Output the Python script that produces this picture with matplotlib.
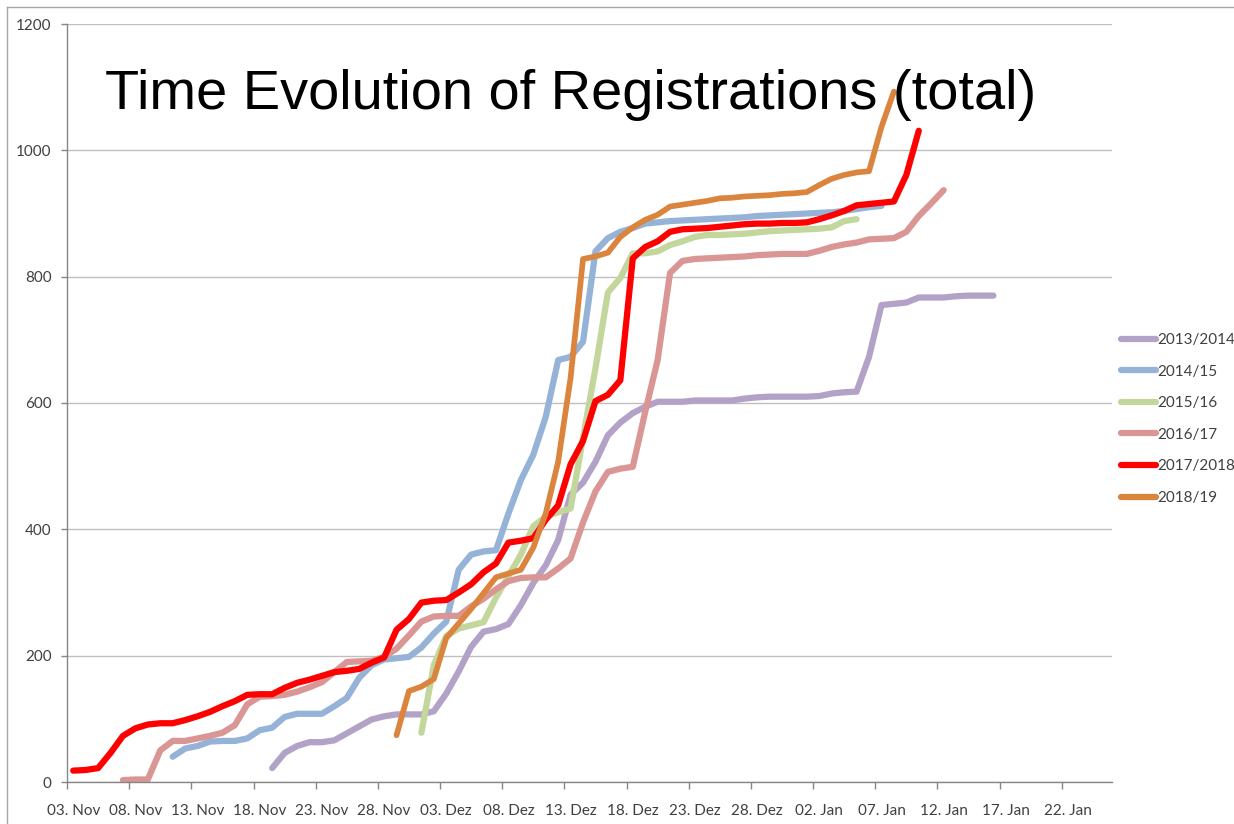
import matplotlib
matplotlib.use("Agg")
import matplotlib.pyplot as plt
from matplotlib.lines import Line2D

# day index 0 = 03. Nov, one category per day
tick_labels = ["03. Nov", "08. Nov", "13. Nov", "18. Nov", "23. Nov", "28. Nov",
               "03. Dez", "08. Dez", "13. Dez", "18. Dez", "23. Dez", "28. Dez",
               "02. Jan", "07. Jan", "12. Jan", "17. Jan", "22. Jan"]
n_days = 84

seasons = ["2013/2014", "2014/15", "2015/16", "2016/17", "2017/2018", "2018/19"]
colors = ["#B3A2C7", "#95B3D7", "#C3D69B", "#D99694", "#FF0000", "#DB843D"]

start_1314 = 16
vals_1314 = [22, 46, 57, 63, 63, 66, 77, 88, 99, 104, 107, 107, 107, 112, 140, 175,
             214, 238, 242, 250, 280, 315, 343, 383, 455, 474, 507, 549, 569, 584,
             594, 602, 602, 602, 604, 604, 604, 604, 607, 609, 610, 610, 610, 610,
             611, 615, 617, 618, 673, 755, 757, 759, 767, 767, 767, 769, 770, 770, 770]

start_1415 = 8
vals_1415 = [40, 53, 57, 64, 65, 65, 69, 82, 86, 103, 108, 108, 108, 120, 133, 165,
             185, 194, 196, 198, 213, 235, 254, 336, 360, 365, 367, 425, 478, 518,
             578, 668, 673, 697, 840, 861, 871, 877, 884, 886, 888, 889, 890, 891,
             892, 893, 894, 896, 897, 898, 899, 900, 901, 902, 904, 907, 910, 912]

start_1516 = 28
vals_1516 = [78, 185, 231, 243, 248, 253, 292, 326, 360, 405, 420, 427, 433, 545,
             655, 775, 798, 837, 837, 840, 850, 856, 863, 866, 866, 867, 868, 870,
             872, 873, 874, 875, 876, 878, 888, 891]

start_1617 = 4
vals_1617 = [3, 4, 4, 50, 65, 65, 69, 73, 78, 90, 123, 135, 136, 138, 143, 150, 158,
             174, 190, 191, 192, 198, 211, 232, 254, 262, 263, 263, 278, 290, 305,
             318, 323, 324, 324, 338, 354, 411, 460, 491, 496, 499, 586, 668, 806,
             825, 828, 829, 830, 831, 832, 834, 835, 836, 836, 836, 841, 847, 851,
             854, 859, 860, 861, 871, 896, 916, 937]

start_1718 = 0
vals_1718 = [18, 19, 22, 46, 73, 85, 91, 93, 93, 98, 104, 111, 120, 128, 138, 139,
             139, 149, 157, 162, 168, 174, 176, 179, 189, 197, 241, 258, 284, 287,
             288, 300, 313, 332, 346, 379, 382, 386, 415, 438, 503, 540, 603, 613,
             636, 829, 847, 856, 871, 875, 876, 877, 879, 881, 883, 884, 884, 885,
             885, 886, 891, 897, 904, 913, 915, 917, 919, 961, 1031]

start_1819 = 26
vals_1819 = [74, 144, 151, 163, 228, 251, 274, 299, 324, 330, 336, 371, 425, 507,
             640, 828, 832, 838, 863, 878, 890, 898, 911, 914, 917, 920, 924, 925,
             927, 928, 929, 931, 932, 934, 945, 955, 961, 965, 967, 1037, 1093]

starts = [start_1314, start_1415, start_1516, start_1617, start_1718, start_1819]
series = [vals_1314, vals_1415, vals_1516, vals_1617, vals_1718, vals_1819]
widths = [4.5, 4.5, 4.5, 4.5, 4.5, 4.1]

fig = plt.figure(figsize=(12.34, 8.24), dpi=100)
ax = fig.add_axes([67 / 1234, 42 / 824, 1044.5 / 1234, 758 / 824])

for name, c, s, v, lw in zip(seasons, colors, starts, series, widths):
    days = list(range(s, s + len(v)))
    ax.plot(days, v, color=c, lw=lw, label=name,
            solid_capstyle="round", solid_joinstyle="round")

ax.set_xlim(-0.5, n_days - 0.5)
ax.set_ylim(0, 1200)
ax.set_yticks(range(0, 1201, 200))
ax.grid(axis="y", color="#BFBFBF", lw=1.0)
ax.set_axisbelow(True)

# tick marks between categories, labels centred on the day
ax.set_xticks([5 * k - 0.5 for k in range(len(tick_labels))])
ax.set_xticklabels([])
ax.set_xticks([5 * k for k in range(len(tick_labels))], minor=True)
ax.set_xticklabels(tick_labels, minor=True)
ax.tick_params(axis="x", which="major", length=5, color="#868686", width=1)
ax.tick_params(axis="x", which="minor", length=0, pad=16, labelsize=11, labelcolor="#404040")
ax.tick_params(axis="y", length=4, color="#868686", width=1, pad=7, labelsize=11, labelcolor="#404040")
for lab in ax.get_xticklabels(minor=True) + ax.get_yticklabels():
    lab.set_family("Lato")

for side in ["top", "right"]:
    ax.spines[side].set_visible(False)
for side in ["left", "bottom"]:
    ax.spines[side].set_color("#868686")
    ax.spines[side].set_linewidth(1)

fig.text(105 / 1234, 1 - 109 / 824, "Time Evolution of Registrations (total)",
         fontsize=40.3, family="Liberation Sans", ha="left", va="baseline")

handles = [Line2D([], [], color=c, lw=4.5, solid_capstyle="round") for c in colors]
leg = fig.legend(handles, seasons, loc="upper left",
                 bbox_to_anchor=(1121 / 1234, 1 - 333 / 824),
                 frameon=False, handlelength=2.3, handletextpad=0.05,
                 labelspacing=1.15, borderaxespad=0, borderpad=0,
                 prop={"family": "Lato", "size": 11})
for t in leg.get_texts():
    t.set_color("#404040")

# chart area border
fig.add_artist(Line2D([7 / 1234, 7 / 1234], [0, 1 - 7 / 824], color="#A6A6A6", lw=1,
                      transform=fig.transFigure))
fig.add_artist(Line2D([7 / 1234, 1], [1 - 7 / 824, 1 - 7 / 824], color="#A6A6A6", lw=1,
                      transform=fig.transFigure))

fig.savefig("out.png", dpi=100)
